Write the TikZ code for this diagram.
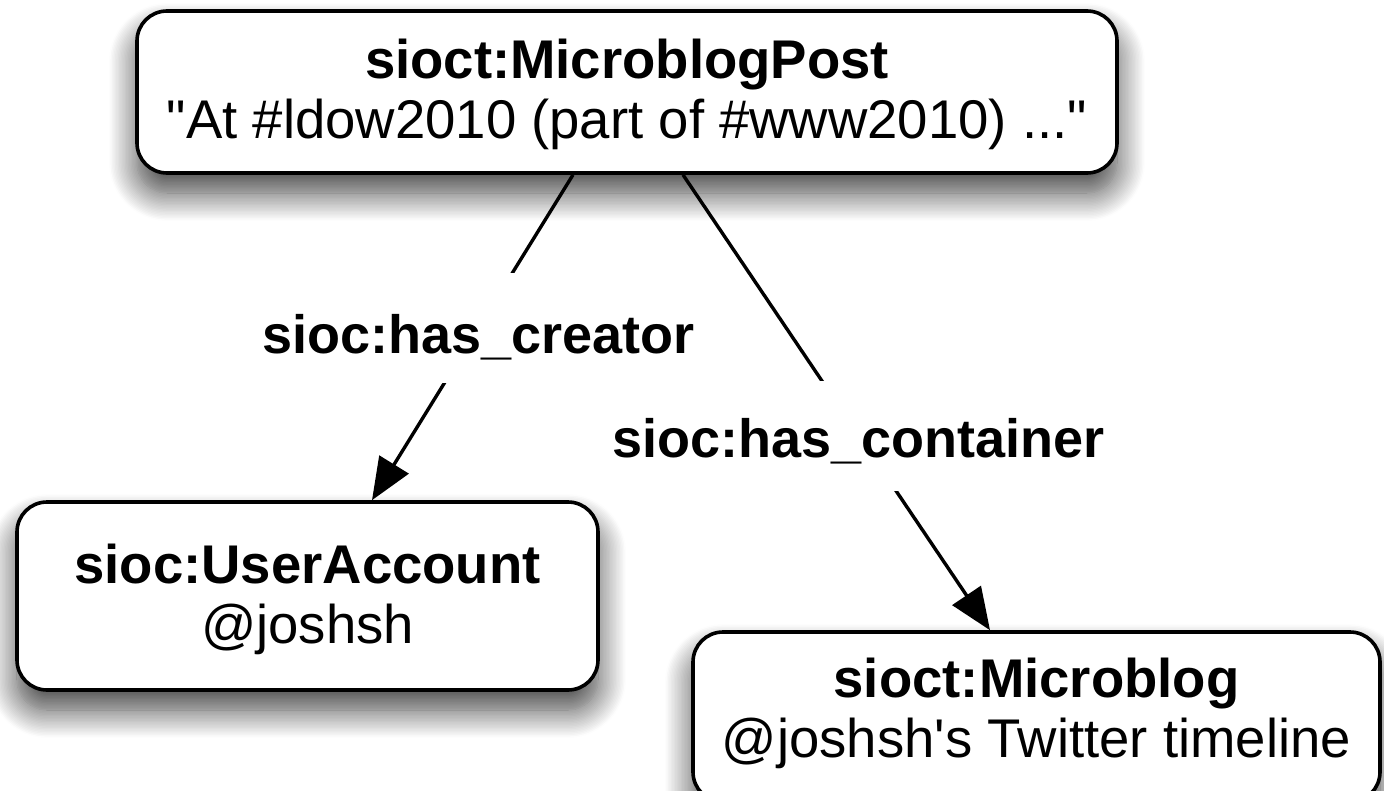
\documentclass[tikz,border=0pt]{standalone}
\usepackage{fontspec}
\setmainfont{Liberation Sans}[Ligatures=TeXOff]
\usetikzlibrary{shadows.blur,arrows.meta}
\begin{document}
\begin{tikzpicture}[x=1pt,y=-1pt,
  box/.style={draw=black, line width=3.6pt, rounded corners=30pt, fill=white,
    align=center, font=\fontsize{54.5}{60}\selectfont, inner sep=0pt,
    blur shadow={shadow xshift=0pt, shadow yshift=-20pt, shadow blur radius=28pt, shadow blur steps=20, shadow opacity=75}},
  lbl/.style={fill=white, inner xsep=2pt, inner ysep=0pt,
    font=\fontsize{54}{60}\selectfont\bfseries, minimum height=110pt},
  conn/.style={line width=3.4pt, -{Triangle[length=42pt,width=34pt]}}]
\useasboundingbox (0,0) rectangle (1384,790);
\node[box, minimum width=980pt, minimum height=162pt, text height=100pt, text depth=8pt] (post) at (627,92)
  {\textbf{sioct:MicroblogPost}\\"At \#ldow2010 (part of \#www2010) ..."};
\node[box, minimum width=581pt, minimum height=188pt, text height=102pt, text depth=8pt] (user) at (307.5,596)
  {\textbf{sioc:UserAccount}\\@joshsh};
\node[box, minimum width=687pt, minimum height=170pt, text height=90pt, text depth=10pt] (blog) at (1036.5,717)
  {\textbf{sioct:Microblog}\\@joshsh's Twitter timeline};
\draw[conn] ([xshift=-54pt]post.south) -- node[lbl, pos=0.471, text height=60pt, text depth=10pt] (lc) {sioc:has\_creator} ([xshift=64.5pt]user.north);
\draw[conn] ([xshift=56pt]post.south) -- node[lbl, pos=0.573, text height=54pt, text depth=10pt] (lk) {sioc:has\_container} ([xshift=-46.5pt]blog.north);
\end{tikzpicture}
\end{document}
